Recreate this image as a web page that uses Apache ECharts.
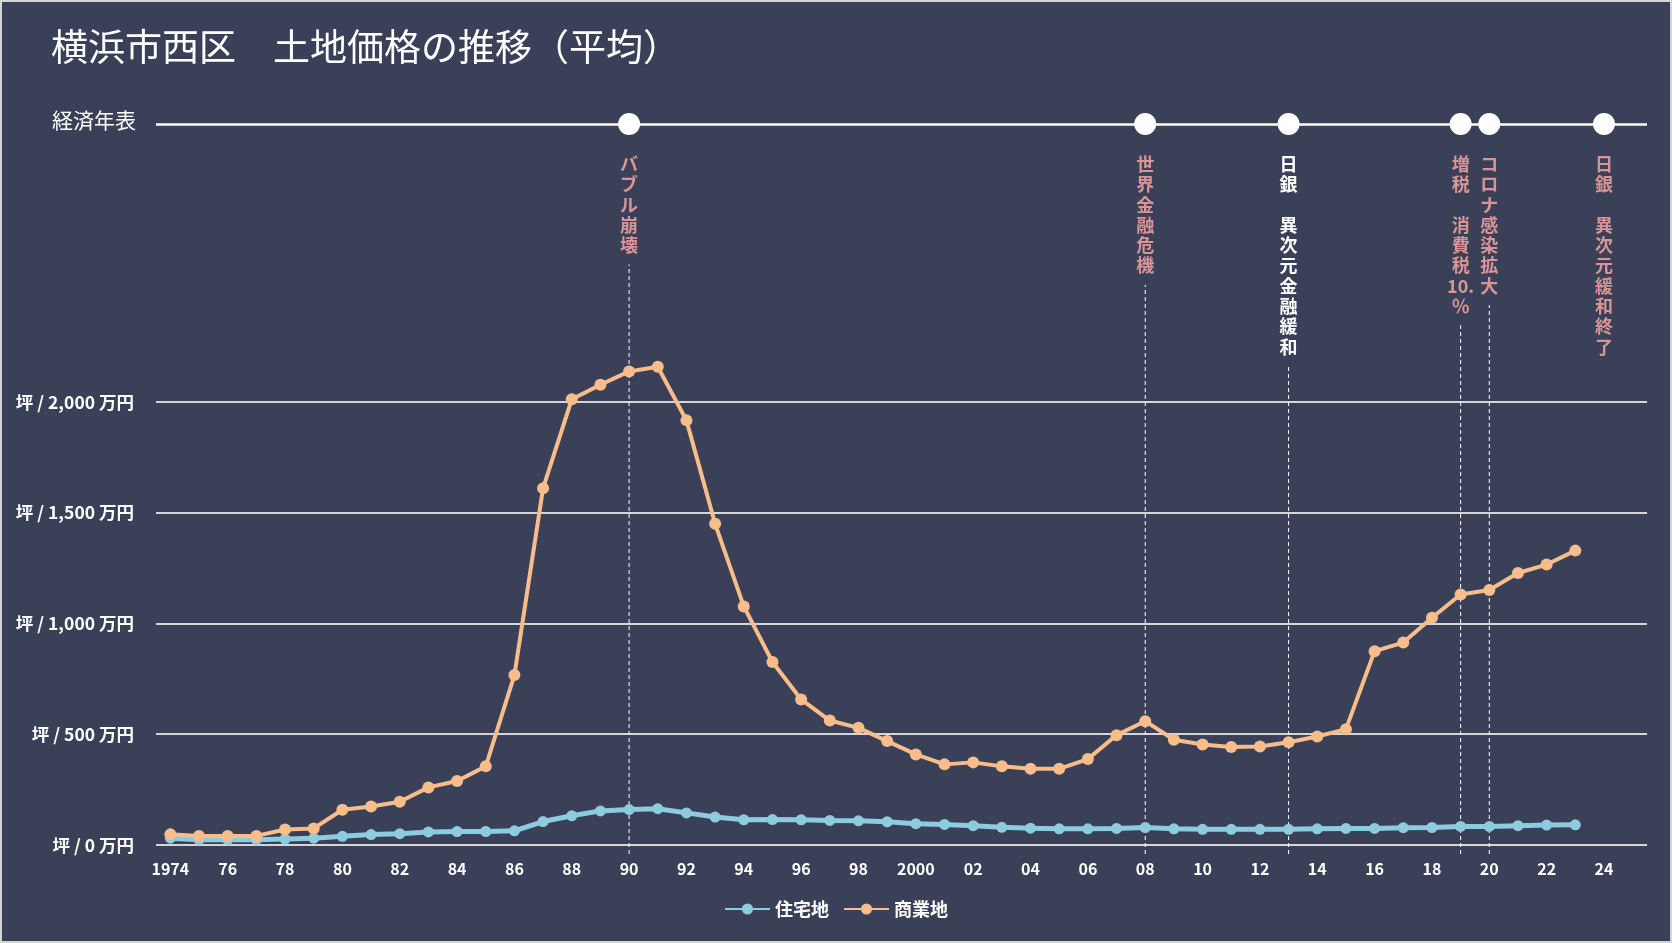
<!DOCTYPE html>
<html><head><meta charset="utf-8">
<script src="https://cdn.jsdelivr.net/npm/echarts@6/dist/echarts.min.js"></script>
<style>
html,body{margin:0;padding:0;background:#d4d4d4;overflow:hidden;}
#c{position:absolute;left:2px;top:2px;width:1668px;height:939px;}
</style>
</head><body><div id="c"></div>
<script>
const TITLE = '横浜市西区　土地価格の推移（平均）';
const TIMELINE_TITLE = '経済年表';
const years = ['1974','1975','1976','1977','1978','1979','1980','1981','1982','1983','1984','1985','1986','1987','1988','1989',
  '1990','1991','1992','1993','1994','1995','1996','1997','1998','1999','2000','2001','2002','2003','2004','2005','2006','2007',
  '2008','2009','2010','2011','2012','2013','2014','2015','2016','2017','2018','2019','2020','2021','2022','2023','2024','2025'];
const residential = [31,24,24,24,27,31,39,47,51,59,61,61,64,106,132,154,160,164,145,126,114,115,114,111,109,105,
  96,93,87,80,76,73,73,75,79,73,71,71,71,71,73,75,75,78,79,84,84,87,90,91];
const commercial = [48,41,41,41,70,75,159,174,195,260,289,355,767,1611,2012,2078,2138,2159,1917,1450,1077,826,657,562,529,469,
  409,364,373,355,344,344,388,496,559,475,454,442,445,464,490,523,875,914,1026,1131,1151,1228,1266,1329];
const seriesNames = ['住宅地','商業地'];
const eventYears = ['1990','2008','2013','2019','2020','2024'];
const eventLabels = [
  ['バ','ブ','ル','崩','壊'],
  ['世','界','金','融','危','機'],
  ['日','銀','　','異','次','元','金','融','緩','和'],
  ['増','税','　','消','費','税','10.','％'],
  ['コ','ロ','ナ','感','染','拡','大'],
  ['日','銀','　','異','次','元','緩','和','終','了']
];
const eventHasLine = [true,true,true,true,true,false];
const yTicks = [0,500,1000,1500,2000];

const Y_MAX = 3255;           // top of plot = timeline row
const TIMELINE_Y = Y_MAX;
const BG = '#394058';
const FONT = '"Noto Sans CJK JP", "Noto Sans", sans-serif';
const GRID = {left:154, right:23, top:122, bottom:96};
const CH = 939;
const pxPerUnit = (CH - GRID.top - GRID.bottom) / Y_MAX;
const LBL_LH = 20.3, LBL_DIST = 19, SYM = 22, GAP = 9, BELOW = 9;

const lineData = [];
eventYears.forEach((y,i)=>{
  if(!eventHasLine[i]) return;
  const topVal = TIMELINE_Y - (SYM/2 + LBL_DIST + eventLabels[i].length*LBL_LH + GAP)/pxPerUnit;
  lineData.push([y, topVal]);
});

const chart = echarts.init(document.getElementById('c'));

const option = {
  backgroundColor: BG,
  animation: false,
  textStyle: {fontFamily: FONT},
  title: {
    text: TITLE, left: 44, top: 21,
    textStyle: {color:'#ffffff', fontSize:37, fontWeight:'normal', fontFamily: FONT}
  },
  graphic: [{
    type:'text', left: 50, top: 108,
    style:{text: TIMELINE_TITLE, fill:'#ffffff', font:'21px ' + FONT}
  }],
  legend: {
    data: seriesNames, bottom: 18, left: 'center',
    itemWidth: 45, itemHeight: 14, itemGap: 14,
    textStyle: {color:'#ffffff', fontSize:18, fontWeight:'bold', fontFamily: FONT}
  },
  grid: GRID,
  xAxis: {
    type:'category', data: years, boundaryGap: true,
    axisLine:{show:false}, axisTick:{show:false},
    axisLabel:{
      interval: 1, margin: 16, color:'#ffffff', fontSize:16, fontWeight:'bold', fontFamily: FONT,
      formatter: v => (v === '1974' || v === '2000') ? v : v.slice(2)
    },
    splitLine:{show:false}
  },
  yAxis: {
    type:'value', min:0, max:Y_MAX, interval:500,
    axisLine:{show:false}, axisTick:{show:false},
    axisLabel:{
      margin: 22, color:'#ffffff', fontSize:17.5, fontWeight:'bold', fontFamily: FONT,
      formatter: v => yTicks.indexOf(v) >= 0 ? ('坪 / ' + v.toLocaleString('en-US') + ' 万円') : ''
    },
    splitLine:{show:true, lineStyle:{width:2,
      color:['#d6d6d6','#d6d6d6','#d6d6d6','#d6d6d6','#d6d6d6','rgba(0,0,0,0)','rgba(0,0,0,0)','rgba(0,0,0,0)']}}
  },
  series: [
    {
      name:'eventLines', type:'custom', clip:false, z:2, silent:true,
      encode:{x:0, y:1},
      data: lineData,
      renderItem: (params, api) => {
        const p0 = api.coord([api.value(0), 0]);
        const p1 = api.coord([api.value(0), api.value(1)]);
        return {type:'line', shape:{x1:p0[0], y1:p0[1] + BELOW, x2:p1[0], y2:p1[1]},
          style:{stroke:'#ffffff', lineWidth:1, lineDash:[4,3]}};
      }
    },
    {
      name: seriesNames[0], type:'line', data: residential,
      symbol:'circle', symbolSize: 11,
      lineStyle:{color:'#8dcbdf', width:5}, itemStyle:{color:'#8dcbdf'}, z: 3
    },
    {
      name: seriesNames[1], type:'line', data: commercial,
      symbol:'circle', symbolSize: 12,
      lineStyle:{color:'#f8bd8a', width:4}, itemStyle:{color:'#f8bd8a'}, z: 4
    },
    {
      name:'events', type:'scatter', clip:false, z: 5,
      data: eventYears.map((y,i)=>({
        value:[y, TIMELINE_Y],
        label:{
          show:true, position:'bottom', distance: LBL_DIST,
          formatter: eventLabels[i].join('\n'),
          color: i === 2 ? '#ffffff' : '#d99595',
          fontSize: 18, fontWeight:'bold', lineHeight: LBL_LH, fontFamily: FONT, align:'center'
        }
      })),
      symbol:'circle', symbolSize: SYM,
      itemStyle:{color:'#ffffff', opacity:1},
      emphasis:{disabled:true},
      markLine:{
        silent:true, symbol:['none','none'], label:{show:false},
        data: [{yAxis: TIMELINE_Y, lineStyle:{color:'#ffffff', width:2.5, type:'solid'}}]
      }
    }
  ]
};
chart.setOption(option);
</script>
</body></html>
